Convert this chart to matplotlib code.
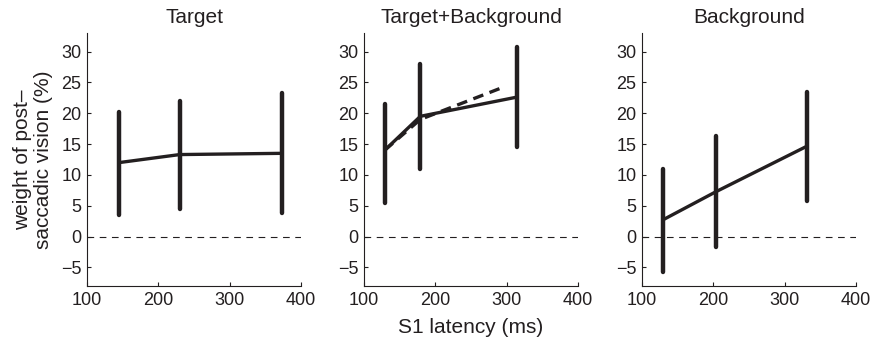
import matplotlib.pyplot as plt

plt.rcParams['font.family'] = ['Liberation Sans', 'DejaVu Sans']

titles = ['Target', 'Target+Background', 'Background']

# latency (ms), mean weight (%), error bar ends
lat_t = [145, 230, 373]
mean_t = [12.0, 13.3, 13.5]
lo_t = [3.5, 4.5, 3.8]
hi_t = [20.2, 22.0, 23.2]

lat_tb = [129, 179, 314]
mean_tb = [14.0, 19.5, 22.6]
lo_tb = [5.5, 11.0, 14.5]
hi_tb = [21.5, 28.0, 30.8]
dash_lat_tb = [129, 179, 297]
dash_tb = [14.0, 19.0, 24.3]

lat_b = [129, 204, 332]
mean_b = [2.7, 7.3, 14.7]
lo_b = [-5.8, -1.6, 5.8]
hi_b = [11.0, 16.3, 23.5]

panels = [
    (lat_t, mean_t, lo_t, hi_t, None, None),
    (lat_tb, mean_tb, lo_tb, hi_tb, dash_lat_tb, dash_tb),
    (lat_b, mean_b, lo_b, hi_b, None, None),
]

col = '#231f20'
fig = plt.figure(figsize=(8.73, 3.39), dpi=100)
lefts = [87, 364, 642]
W, H = 873, 339
for i, (x, m, lo, hi, dx, dy) in enumerate(panels):
    ax = fig.add_axes([lefts[i] / W, (H - 286) / H, 214 / W, (286 - 33) / H])
    ax.axhline(0, color=col, lw=0.8, ls=(0, (6, 5)))
    ax.vlines(x, lo, hi, color=col, lw=3.2, capstyle='round')
    if dx is not None:
        ax.plot(dx, dy, color=col, lw=2.4, ls=(0, (3.2, 2)))
    ax.plot(x, m, color=col, lw=2.4, solid_capstyle='butt')
    ax.set_xlim(100, 400)
    ax.set_ylim(-8, 33)
    ax.set_xticks([100, 200, 300, 400])
    ax.set_yticks([-5, 0, 5, 10, 15, 20, 25, 30])
    ax.set_yticklabels(['\u22125', '0', '5', '10', '15', '20', '25', '30'])
    ax.spines['top'].set_visible(False)
    ax.spines['right'].set_visible(False)
    for s in ['left', 'bottom']:
        ax.spines[s].set_linewidth(0.8)
        ax.spines[s].set_color(col)
    ax.tick_params(direction='in', length=3, width=0.8, labelsize=13,
                   colors=col, pad=4)
    ax.set_title(titles[i], fontsize=15, color=col, pad=7)
    if i == 0:
        ax.set_ylabel('weight of post\u2013\nsaccadic vision (%)', fontsize=15,
                      color=col, linespacing=1.1)
        ax.yaxis.set_label_coords(-0.16, 0.5)
    if i == 1:
        ax.set_xlabel('S1 latency (ms)', fontsize=15, color=col, labelpad=7)

fig.savefig('out.png', dpi=100)
